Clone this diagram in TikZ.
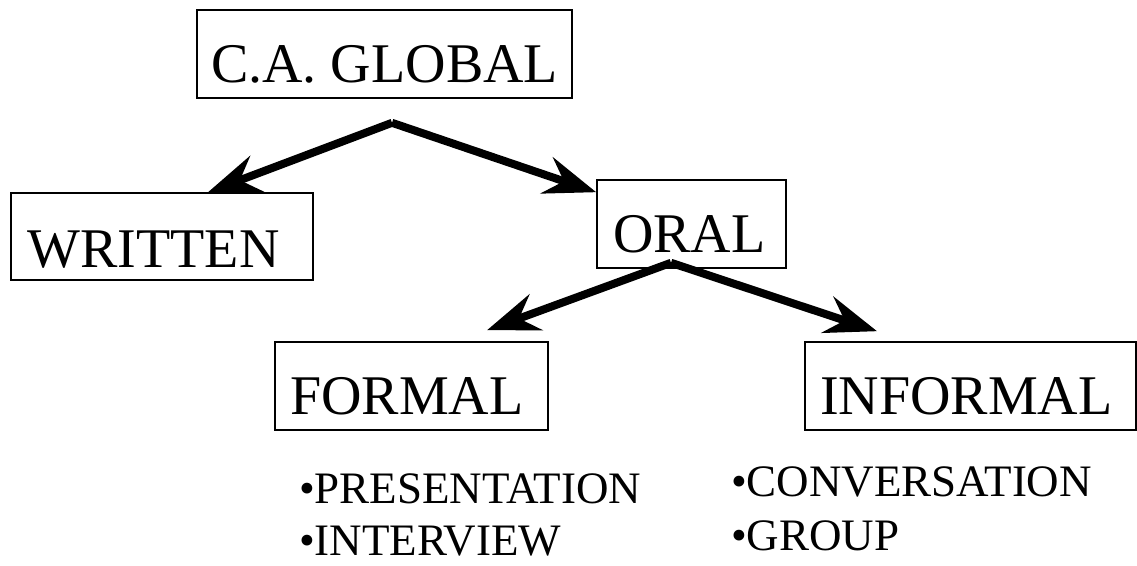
\documentclass[tikz,border=0pt]{standalone}
\usepackage{fontspec}
\setmainfont{Liberation Serif}
\usetikzlibrary{arrows.meta}
\begin{document}
\begin{tikzpicture}[x=1pt,y=-1pt,
  boxnode/.style={draw,line width=1.6pt,inner sep=0pt,rectangle},
  bigtext/.style={anchor=base west,inner sep=0pt,font=\fontsize{56}{60}\selectfont},
  itemtext/.style={anchor=base west,inner sep=0pt,text depth=0pt,font=\fontsize{45}{50}\selectfont},
  thickarrow/.style={line width=8pt,-{Stealth[length=52pt,width=38pt,inset=18pt]}}]
\useasboundingbox (0,0) rectangle (1137,565);
% boxes
\node[boxnode,minimum width=375pt,minimum height=88pt] (gbox) at (384.5,54) {};
\node[boxnode,minimum width=302pt,minimum height=87pt] (wbox) at (162,236.5) {};
\node[boxnode,minimum width=189pt,minimum height=88pt] (obox) at (691.5,224) {};
\node[boxnode,minimum width=273pt,minimum height=88pt] (fbox) at (411.5,386) {};
\node[boxnode,minimum width=331pt,minimum height=88pt] (ibox) at (970.5,386) {};
% texts
\node[bigtext] (gtext) at (211,82) {C.A. GLOBAL};
\node[bigtext] (wtext) at (27.5,267) {WRITTEN};
\node[bigtext] (otext) at (613,252) {ORAL};
\node[bigtext] (ftext) at (290,414) {FORMAL};
\node[bigtext] (itext) at (820,414) {INFORMAL};
\node[itemtext] (p1) at (299,503) {•PRESENTATION};
\node[itemtext] (p2) at (299,555) {•INTERVIEW};
\node[itemtext] (c1) at (731,496) {•CONVERSATION};
\node[itemtext] (c2) at (731,550) {•GROUP};
% connectors
\coordinate (gapex) at ([xshift=7.5pt,yshift=-24pt]gbox.south);
\coordinate (oapex) at ([xshift=-20.5pt,yshift=6pt]obox.south);
\draw[thickarrow] (gapex) -- ([xshift=46pt]wbox.north);
\draw[thickarrow] (gapex) -- ([yshift=-13pt]obox.north west);
\draw[thickarrow] (oapex) -- ([xshift=75.5pt,yshift=11pt]fbox.north);
\draw[thickarrow] (oapex) -- ([xshift=-93.5pt,yshift=10pt]ibox.north);
\end{tikzpicture}
\end{document}
